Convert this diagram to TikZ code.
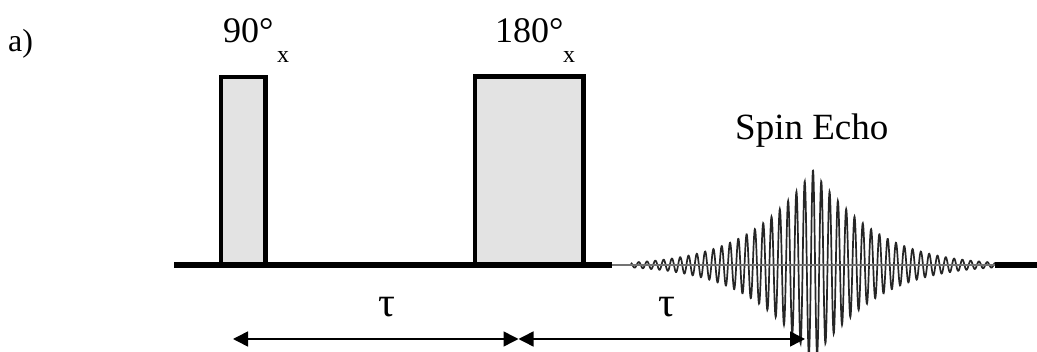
\documentclass[tikz,border=0pt]{standalone}
\usepackage{fontspec}
\setmainfont{Liberation Serif}
\usetikzlibrary{arrows.meta}
\tikzset{
  pulse/.style={draw=black, line width=4.5pt, fill=black!11},
  base/.style={line width=6pt, black},
  span/.style={line width=1.5pt, {Triangle[length=15pt,width=15pt]}-{Triangle[length=15pt,width=15pt]}},
  big/.style={font=\fontsize{36}{40}\selectfont, inner sep=0pt},
  sub/.style={font=\fontsize{24}{28}\selectfont, inner sep=0pt},
  lab/.style={font=\fontsize{32}{36}\selectfont, inner sep=0pt},
}
\begin{document}
\begin{tikzpicture}[x=1pt,y=-1pt]
\useasboundingbox (0,0) rectangle (1037,352);
% pulses
\draw[pulse] (221,265) rectangle (265.5,77);
\draw[pulse] (475,265) rectangle (583.5,76.5);
% echo
\draw[black!85, line width=1.7pt] plot[domain=-182:182, samples=1400]
  ({813+\x},{265-95*exp(-abs(\x)/66-(\x/190)^2)*cos(\x/8.3*360)});
% baseline
\draw[base] (174,265) -- (612,265);
\draw[black!55, line width=2.5pt] (612,265) -- (995,265);
\draw[base] (995,265) -- (1037,265);
% labels
\node[lab, anchor=base west] (a) at (8,52) {a)};
\node[big, anchor=base west] (p90) at (223,43) {90°};
\node[sub, anchor=base west] (s90) at (277,63) {x};
\node[big, anchor=base west] (p180) at (495,43) {180°};
\node[sub, anchor=base west] (s180) at (563,63) {x};
\node[big, font=\fontsize{37}{40}\selectfont, anchor=base west] (echo) at (735,140) {Spin Echo};
\node[big, font=\fontsize{42}{46}\selectfont, anchor=base] (tau1) at (387,317) {τ};
\node[big, font=\fontsize{42}{46}\selectfont, anchor=base] (tau2) at (667,317) {τ};
% spans
\coordinate (t0) at (233,339);
\coordinate (t1) at (518.5,339);
\coordinate (t2) at (805,339);
\draw[span] (t0) -- (t1);
\draw[span] (t1) -- (t2);
\end{tikzpicture}
\end{document}
